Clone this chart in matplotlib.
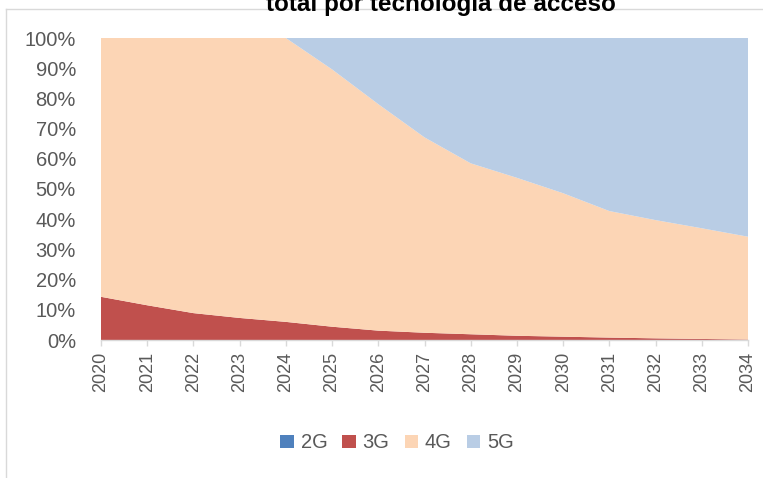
import matplotlib
matplotlib.use("Agg")
import matplotlib.pyplot as plt
from matplotlib.ticker import PercentFormatter
from matplotlib.lines import Line2D
from matplotlib.patches import Patch

plt.rcParams['font.family'] = ['Liberation Sans', 'DejaVu Sans']

years = [2020, 2021, 2022, 2023, 2024, 2025, 2026, 2027, 2028, 2029, 2030, 2031, 2032, 2033, 2034]
series = ['2G', '3G', '4G', '5G']
# shares in %
g2 = [0, 0, 0, 0, 0, 0, 0, 0, 0, 0, 0, 0, 0, 0, 0]
g3 = [14.3, 11.5, 8.9, 7.3, 6.0, 4.4, 3.1, 2.4, 1.9, 1.4, 1.1, 0.8, 0.55, 0.35, 0.15]
g5 = [0, 0, 0, 0, 0, 10.4, 21.9, 32.9, 41.5, 46.3, 51.4, 57.3, 60.3, 63.0, 65.8]
g4 = [100 - a - b - c for a, b, c in zip(g2, g3, g5)]
colors = ['#4F81BD', '#C0504D', '#FCD5B5', '#B9CDE5']

txt = '#595959'
W, H = 763, 478
fig = plt.figure(figsize=(W / 100, H / 100), dpi=100)
ax = fig.add_axes([101 / W, 1 - 340 / H, (748 - 101) / W, (340 - 38) / H])

ax.stackplot(years, [v / 100 for v in g2], [v / 100 for v in g3],
             [v / 100 for v in g4], [v / 100 for v in g5],
             colors=colors, linewidth=0)

ax.set_xlim(years[0], years[-1])
ax.set_ylim(0, 1)
ax.set_yticks([i / 10 for i in range(11)])
ax.yaxis.set_major_formatter(PercentFormatter(1.0, decimals=0))
ax.set_xticks(years)
ax.set_xticklabels([str(y) for y in years], rotation=90)

for s in ['top', 'right', 'left']:
    ax.spines[s].set_visible(False)
ax.spines['bottom'].set_color('#D9D9D9')
ax.spines['bottom'].set_linewidth(1)
ax.tick_params(axis='y', length=0, pad=18, labelsize=14.5, labelcolor=txt)
ax.tick_params(axis='x', length=4.5, width=1, color='#D9D9D9', pad=4,
               labelsize=13, labelcolor=txt)

# chart frame (partly outside the picture)
fig.add_artist(Line2D([6 / W, 6 / W], [0, 1 - 9 / H], color='#D9D9D9', lw=1))
fig.add_artist(Line2D([6 / W, 1], [1 - 9 / H, 1 - 9 / H], color='#D9D9D9', lw=1))

fig.text(441 / W, 1 - 11 / H, 'total por tecnología de acceso', ha='center',
         va='baseline', fontsize=17.5, fontweight='bold', color='black')

handles = [Patch(facecolor=c, edgecolor='none') for c in colors]
fig.legend(handles, series, loc='center', bbox_to_anchor=(397 / W, 1 - 443 / H),
           ncol=4, frameon=False, fontsize=14.5, labelcolor=txt,
           handlelength=0.65, handleheight=0.65, handletextpad=0.35,
           columnspacing=0.75)

fig.savefig('out.png', dpi=100)
